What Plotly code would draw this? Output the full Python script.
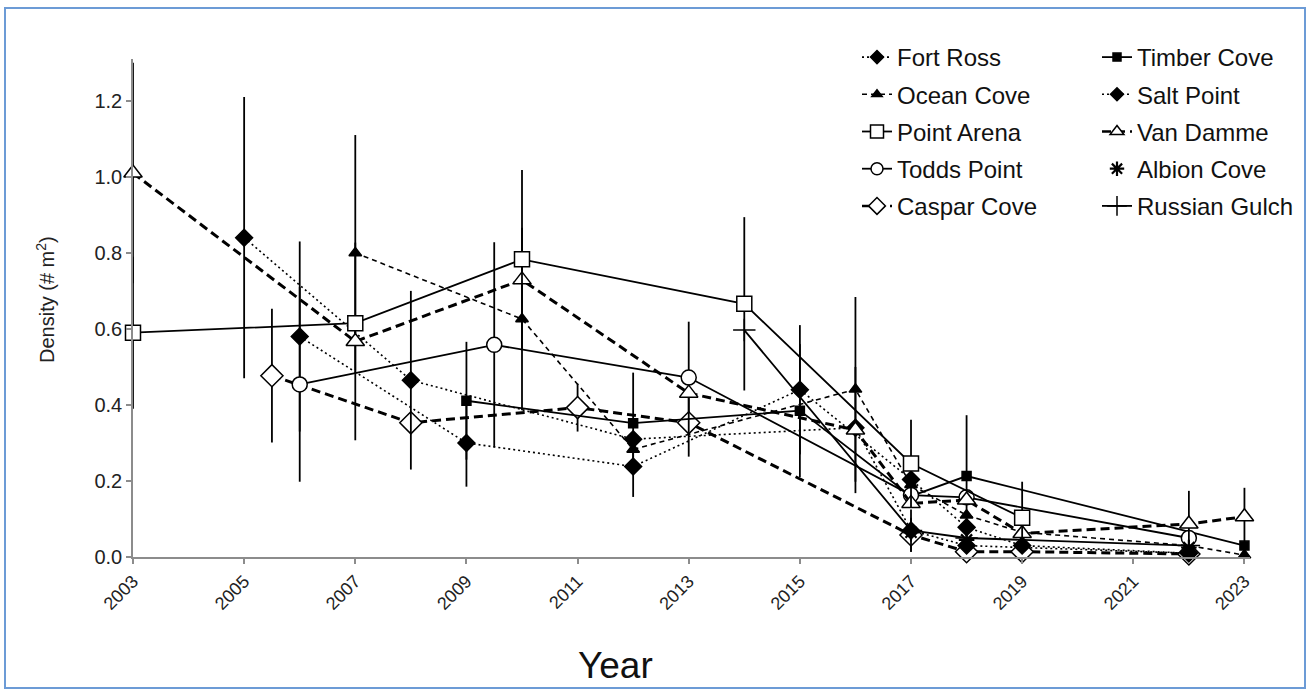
import plotly.graph_objects as go

# ---- data ----
fort_ross_x = [2005, 2008, 2012, 2016, 2017, 2018, 2022]
fort_ross_y = [0.84, 0.465, 0.31, 0.34, 0.07, 0.03, 0.01]
fort_ross_e = [0.37, 0.235, 0, 0, 0, 0, 0]

timber_cove_x = [2009, 2012, 2015, 2017, 2018, 2023]
timber_cove_y = [0.411, 0.352, 0.385, 0.16, 0.213, 0.03]
timber_cove_e = [0.155, 0.133, 0.175, 0, 0.16, 0]

ocean_cove_x = [2007, 2010, 2012, 2016, 2017, 2018, 2019, 2022, 2023]
ocean_cove_y = [0.80, 0.626, 0.283, 0.441, 0.19, 0.11, 0.065, 0.03, 0.005]
ocean_cove_e = [0.31, 0.24, 0, 0.243, 0, 0, 0, 0, 0]

salt_point_x = [2006, 2009, 2012, 2015, 2017, 2018, 2019, 2022]
salt_point_y = [0.58, 0.30, 0.238, 0.44, 0.204, 0.078, 0.03, 0.01]
salt_point_e = [0.25, 0.115, 0.08, 0.17, 0, 0, 0, 0]

point_arena_x = [2003, 2007, 2010, 2014, 2017, 2019]
point_arena_y = [0.59, 0.615, 0.783, 0.666, 0.246, 0.103]
point_arena_e = [0.20, 0, 0.235, 0.228, 0.115, 0.095]

van_damme_x = [2003, 2007, 2010, 2013, 2016, 2017, 2018, 2019, 2022, 2023]
van_damme_y = [1.01, 0.567, 0.729, 0.431, 0.334, 0.141, 0.15, 0.062, 0.087, 0.106]
van_damme_e = [0.29, 0.26, 0, 0, 0.166, 0, 0, 0.05, 0.087, 0.076]

todds_point_x = [2006, 2009.5, 2013, 2017, 2018, 2022]
todds_point_y = [0.454, 0.558, 0.472, 0.163, 0.157, 0.05]
todds_point_e = [0.256, 0.27, 0.147, 0, 0, 0]

albion_cove_x = [2017, 2018, 2022]
albion_cove_y = [0.065, 0.045, 0.025]

caspar_cove_x = [2005.5, 2008, 2011, 2013, 2017, 2018, 2019, 2022]
caspar_cove_y = [0.477, 0.353, 0.393, 0.353, 0.058, 0.014, 0.014, 0.008]
caspar_cove_e = [0.176, 0, 0.063, 0.089, 0.045, 0.014, 0, 0]

russian_gulch_x = [2014, 2017, 2018, 2022]
russian_gulch_y = [0.597, 0.07, 0.05, 0.03]
russian_gulch_e = [0, 0.055, 0, 0]

x_ticks = [2003, 2005, 2007, 2009, 2011, 2013, 2015, 2017, 2019, 2021, 2023]
y_ticks = [0.0, 0.2, 0.4, 0.6, 0.8, 1.0, 1.2]

FONT = "Liberation Sans, Arial, sans-serif"
BLACK = "black"

DOT = "2px,3px"
THICK = "9px,5px"
THIN = "5px,4px"

# name, x, y, err, dash, line width, symbol, size, legend size, filled, legend, mode
series = [
    ("Caspar Cove", caspar_cove_x, caspar_cove_y, caspar_cove_e, THICK, 3, "diamond", 17, 13, False, "legend", "lines+markers"),
    ("Russian Gulch", russian_gulch_x, russian_gulch_y, russian_gulch_e, "solid", 1.8, "cross-thin-open", 16, 14, True, "legend2", "lines+markers"),
    ("Timber Cove", timber_cove_x, timber_cove_y, timber_cove_e, "solid", 1.8, "square", 9, 8, True, "legend2", "lines+markers"),
    ("Salt Point", salt_point_x, salt_point_y, salt_point_e, DOT, 1.6, "diamond", 13, 10, True, "legend2", "lines+markers"),
    ("Fort Ross", fort_ross_x, fort_ross_y, fort_ross_e, DOT, 1.6, "diamond", 13, 10, True, "legend", "lines+markers"),
    ("Ocean Cove", ocean_cove_x, ocean_cove_y, ocean_cove_e, THIN, 1.6, "triangle-up", 11, 9, True, "legend", "lines+markers"),
    ("Todds Point", todds_point_x, todds_point_y, todds_point_e, "solid", 1.8, "circle", 15, 12, False, "legend", "lines+markers"),
    ("Van Damme", van_damme_x, van_damme_y, van_damme_e, THICK, 3, "triangle-up", 16, 12, False, "legend2", "lines+markers"),
    ("Point Arena", point_arena_x, point_arena_y, point_arena_e, "solid", 1.8, "square", 15, 13, False, "legend", "lines+markers"),
    ("Albion Cove", albion_cove_x, albion_cove_y, None, "solid", 1.5, "asterisk-open", 13, 12, True, "legend2", "markers"),
]

order1 = ["Fort Ross", "Ocean Cove", "Point Arena", "Todds Point", "Caspar Cove"]
order2 = ["Timber Cove", "Salt Point", "Van Damme", "Albion Cove", "Russian Gulch"]

fig = go.Figure()

for name, x, y, e, dash, lw, symbol, size, lsize, filled, legend, mode in series:
    fill = BLACK if filled else "white"
    mlw = 2.2 if symbol == "asterisk-open" else 1.5
    fig.add_trace(go.Scatter(
        x=x, y=y, name=name, mode=mode, showlegend=False, legendgroup=name,
        line=dict(color=BLACK, width=lw, dash=dash),
        marker=dict(symbol=symbol, size=size, color=fill, line=dict(color=BLACK, width=mlw)),
        error_y=dict(type="data", array=e, visible=e is not None,
                     color=BLACK, thickness=1.8, width=0),
        cliponaxis=False,
    ))
    rank = (order1.index(name) if name in order1 else order2.index(name)) + 1
    # legend-only entry with smaller key markers
    fig.add_trace(go.Scatter(
        x=[None], y=[None], name=name, mode=mode, legend=legend, legendgroup=name,
        legendrank=rank, showlegend=True,
        line=dict(color=BLACK, width=min(lw, 2.5), dash=dash),
        marker=dict(symbol=symbol, size=lsize, color=fill, line=dict(color=BLACK, width=mlw)),
    ))

L, R, T, B = 133, 63, 59, 133
W, H = 1313, 690
pw, ph = W - L - R, H - T - B

def px(xp):
    return (xp - L) / pw

def py(yp):
    return (H - B - yp) / ph

legend_common = dict(
    orientation="v", yanchor="top", xanchor="left",
    font=dict(family=FONT, size=24, color="#111"),
    bgcolor="rgba(0,0,0,0)", tracegroupgap=3, itemwidth=30,
)

fig.update_layout(
    width=W, height=H,
    margin=dict(l=L, r=R, t=T, b=B),
    paper_bgcolor="white", plot_bgcolor="white",
    font=dict(family=FONT, color="#222"),
    showlegend=True,
    legend=dict(x=px(857), y=py(35), **legend_common),
    legend2=dict(x=px(1097), y=py(35), **legend_common),
    xaxis=dict(
        range=[2003, 2023.1], tickmode="array", tickvals=x_ticks,
        ticktext=[str(v) for v in x_ticks], tickangle=-45,
        showgrid=False, zeroline=False, showline=True, linecolor="#8c8c8c", linewidth=1.5,
        ticks="outside", ticklen=5, tickcolor="#8c8c8c", tickwidth=1.5,
        tickfont=dict(family=FONT, size=18, color="#222"),
    ),
    yaxis=dict(
        range=[0, 1.31], tickmode="array", tickvals=y_ticks,
        ticktext=[f"{v:.1f}" for v in y_ticks],
        showgrid=False, zeroline=False, showline=True, linecolor="#8c8c8c", linewidth=1.5,
        ticks="outside", ticklen=5, tickcolor="#8c8c8c", tickwidth=1.5,
        tickfont=dict(family=FONT, size=20, color="#222"),
    ),
    annotations=[
        dict(text="Year", x=px(615), y=py(665), xref="paper", yref="paper",
             showarrow=False, font=dict(family=FONT, size=37, color="#111"),
             xanchor="center", yanchor="middle"),
        dict(text="Density (# m<sup>2</sup>)", x=px(45), y=py(300), xref="paper", yref="paper",
             showarrow=False, textangle=-90, font=dict(family=FONT, size=20, color="#222"),
             xanchor="center", yanchor="middle"),
    ],
    shapes=[
        dict(type="rect", xref="paper", yref="paper",
             x0=px(5), x1=px(1305), y0=py(688), y1=py(8),
             line=dict(color="#6C9BD6", width=2), fillcolor="rgba(0,0,0,0)", layer="below"),
    ],
)

fig.write_html("out.html")
